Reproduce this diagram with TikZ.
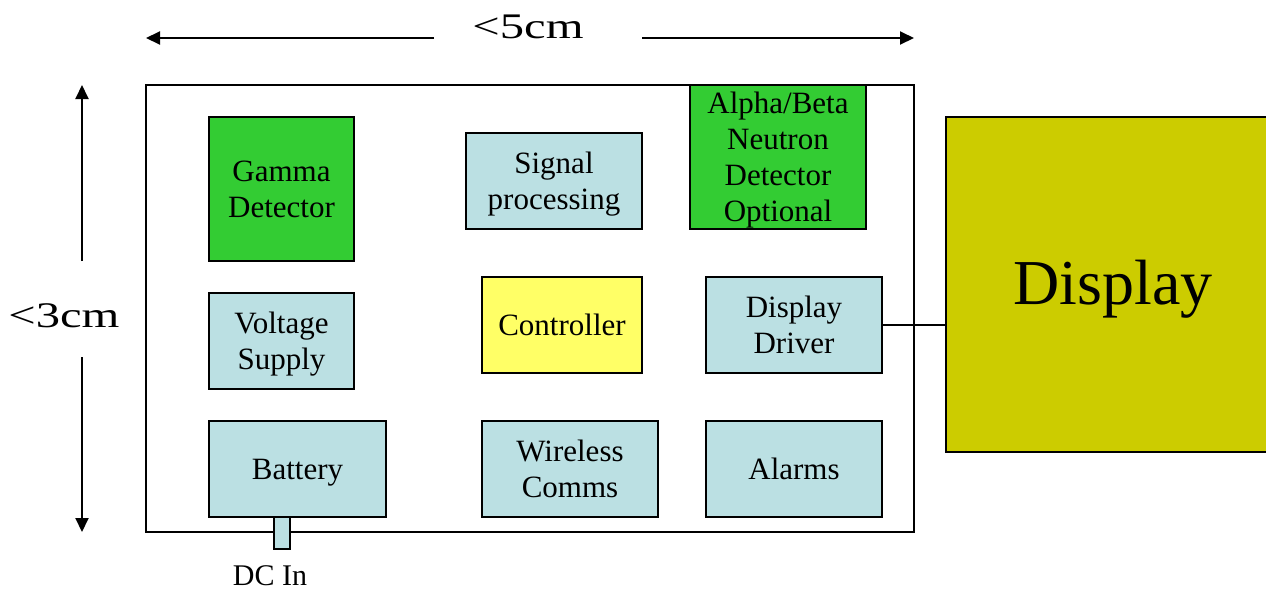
\documentclass[tikz,border=0pt]{standalone}
\usepackage{fontspec}
\setmainfont{Liberation Serif}
\newfontfamily\dimfont[FakeStretch=1.35]{Liberation Serif}
\usetikzlibrary{arrows.meta}
\definecolor{detgreen}{HTML}{33CC33}
\definecolor{boxblue}{HTML}{BBE0E3}
\definecolor{ctrlyellow}{HTML}{FFFF66}
\definecolor{lcdolive}{HTML}{CCCC00}

\begin{document}
\begin{tikzpicture}[x=0.5pt,y=-0.5pt,
		blk/.style={draw=black, line width=1pt, inner sep=0pt, align=center, text depth=0pt,
			font=\fontsize{15.5}{18}\selectfont},
		dimarrow/.style={line width=1pt, -{Triangle[length=7pt,width=6.5pt]}},
		dimlabel/.style={font=\dimfont\fontsize{18}{20}\selectfont}]
		\useasboundingbox (0,0) rectangle (1266,590);
		% housing outline
		\node[draw=black, line width=1pt, minimum width=384pt, minimum height=223.5pt] (case) at (530,308.5) {};
		% detectors
		\node[blk, fill=detgreen, minimum width=72.5pt, minimum height=72pt] (gamma) at (281.5,189) {Gamma\\Detector};
		\node[blk, fill=boxblue, minimum width=88pt, minimum height=48pt] (sigproc) at (554,181) {Signal\\processing};
		\node[blk, fill=detgreen, minimum width=88pt, minimum height=72pt] (alphabeta) at (778,157) {Alpha/Beta\\Neutron\\Detector\\Optional};
		% middle row
		\node[blk, fill=boxblue, minimum width=72.5pt, minimum height=48pt] (vsupply) at (281.5,341) {Voltage\\Supply};
		\node[blk, fill=ctrlyellow, minimum width=80pt, minimum height=48pt] (ctrl) at (562,325) {Controller};
		\node[blk, fill=boxblue, minimum width=88pt, minimum height=48pt] (driver) at (794,325) {Display\\Driver};
		% bottom row
		\node[blk, fill=boxblue, minimum width=8pt, minimum height=16pt] (dcin) at (282,533) {};
		\node[blk, fill=boxblue, minimum width=88.5pt, minimum height=48pt] (batt) at (297.5,469) {Battery};
		\node[blk, fill=boxblue, minimum width=88pt, minimum height=48pt] (comms) at (570,469) {Wireless\\Comms};
		\node[blk, fill=boxblue, minimum width=88pt, minimum height=48pt] (alarms) at (794,469) {Alarms};
		\node[font=\fontsize{15}{18}\selectfont, inner sep=0pt] (dclabel) at (270,575.5) {DC In};
		% external display
		\node[blk, fill=lcdolive, minimum width=167pt, minimum height=167.5pt] (lcd) at (1113,284.5) {};
		\node[font=\fontsize{32}{36}\selectfont] (lcdtext) at (1113,289) {Display};
		\draw[line width=1pt] (driver.east) -- (lcd.west |- driver.east);
		% size marks
		\node[dimlabel] (width) at (528,27) {<5cm};
		\coordinate (wl) at (146,38);
		\coordinate (wla) at (434,38);
		\coordinate (wr) at (914,38);
		\coordinate (wra) at (642,38);
		\draw[dimarrow] (wla) -- (wl);
		\draw[dimarrow] (wra) -- (wr);
		\node[dimlabel] (height) at (64,316) {<3cm};
		\coordinate (ht) at (82,85);
		\coordinate (hta) at (82,261);
		\coordinate (hb) at (82,532);
		\coordinate (hba) at (82,357);
		\draw[dimarrow] (hta) -- (ht);
		\draw[dimarrow] (hba) -- (hb);
	\end{tikzpicture}
\end{document}
